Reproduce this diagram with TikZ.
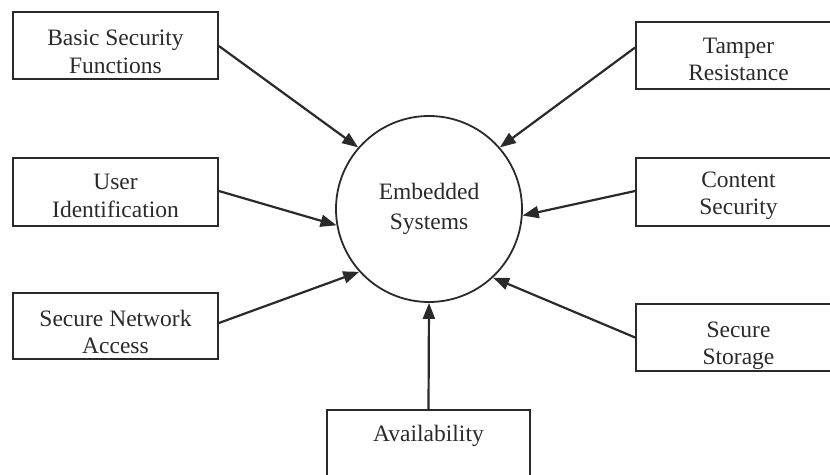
\documentclass[tikz,border=0pt]{standalone}
\usepackage{fontspec}
\setmainfont{Liberation Serif}
\usetikzlibrary{arrows.meta}
\definecolor{ink}{HTML}{2A2A2A}
\begin{document}
\begin{tikzpicture}[x=1pt,y=-1pt,
  every node/.style={font=\fontsize{23.5}{27.5}\selectfont, text=ink},
  featbox/.style={draw=ink, line width=1.8pt, rectangle, minimum width=205pt, inner sep=0pt},
  caption/.style={align=center, inner sep=0pt},
  hub/.style={draw=ink, line width=1.8pt, circle, minimum size=186pt, align=center, inner sep=0pt,
    font=\fontsize{23.5}{30}\selectfont},
  feed/.style={draw=ink, line width=2.2pt, -{Triangle[length=16pt,width=12pt]}}]
\useasboundingbox (0,0) rectangle (830,474);
\clip (0,0) rectangle (830,474);

% central circle
\node[hub] (es) at (429,209) {Embedded\\Systems};

% feature boxes on the left
\node[featbox, minimum height=67pt] (basic)  at (115.5,45.5) {};
\node[featbox, minimum height=68pt] (user)   at (115.5,192)  {};
\node[featbox, minimum height=66pt] (secnet) at (115.5,326)  {};

% feature boxes on the right (running past the edge)
\node[featbox, minimum height=67pt] (tamper)  at (738.5,55.5)  {};
\node[featbox, minimum height=68pt] (content) at (738.5,192)   {};
\node[featbox, minimum height=67pt] (storage) at (738.5,337.5) {};

% box below the circle, open past the bottom edge
\node[featbox, minimum width=203pt, minimum height=100pt, anchor=north] (avail) at (428.5,409) {};

% box captions
\node[caption] (basic-t)   at (115.5,52)  {Basic Security\\Functions};
\node[caption] (user-t)    at (115.5,196) {User\\Identification};
\node[caption] (secnet-t)  at (115.5,332) {Secure Network\\Access};
\node[caption] (tamper-t)  at (738.5,59.5) {Tamper\\Resistance};
\node[caption] (content-t) at (738.5,196) {Content\\Security};
\node[caption] (storage-t) at (738.5,346) {Secure\\Storage};
\node[caption] (avail-t)   at (428.5,436) {Availability};

% connectors into the circle
\draw[feed] ([yshift=-0.5pt]basic.east) -- (es.139);
\draw[feed] ([yshift=8pt]tamper.west) -- (es.41);
\draw[feed] ([yshift=1pt]user.east) -- (es.190);
\draw[feed] ([yshift=1pt]content.west) -- (es.-4);
\draw[feed] ([yshift=3pt]secnet.east) -- (es.222);
\draw[feed] (storage.west) -- (es.-47);
\draw[feed] (avail.north) -- (es.south);
\end{tikzpicture}
\end{document}
